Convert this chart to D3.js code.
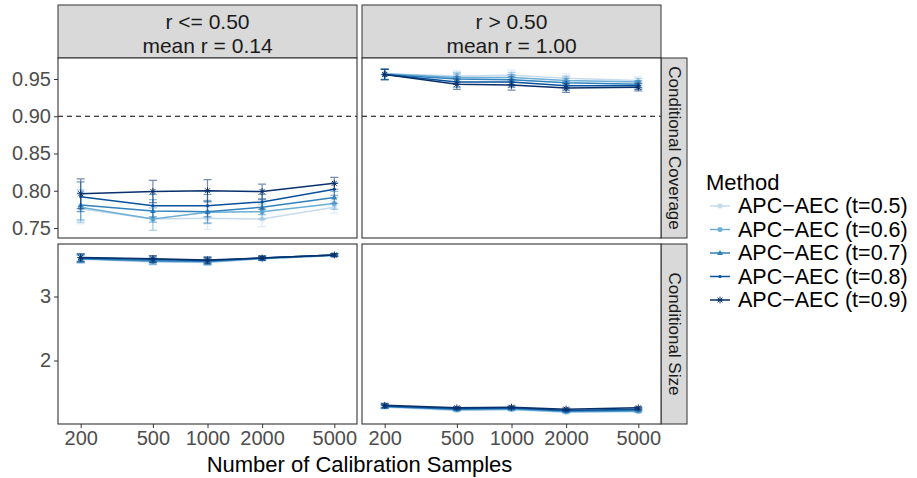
<!DOCTYPE html>
<html>
<head>
<meta charset="utf-8">
<script src="https://cdn.jsdelivr.net/npm/d3@7"></script>
<style>
  body { margin: 0; background: #fff; }
  svg { font-family: "Liberation Sans", Arial, sans-serif; }
</style>
</head>
<body>
<svg id="chart" width="917" height="478"></svg>
<script>
const sampleSizes = [200, 500, 1000, 2000, 5000];
const methods = ["APC\u2212AEC (t=0.5)", "APC\u2212AEC (t=0.6)", "APC\u2212AEC (t=0.7)", "APC\u2212AEC (t=0.8)", "APC\u2212AEC (t=0.9)"];
const methodColors = ["#c6dbef", "#6baed6", "#3182bd", "#08519c", "#08306b"];
const methodShapes = ["square", "circle", "triangle", "dot", "asterisk"];
const colLabels = [["r <= 0.50", "mean r = 0.14"], ["r > 0.50", "mean r = 1.00"]];
const rowLabels = ["Conditional Coverage", "Conditional Size"];

// conditional coverage, r <= 0.50 (one row per method)
const coverageLow = [
  [0.776, 0.762, 0.763, 0.762, 0.778],
  [0.778, 0.762, 0.771, 0.772, 0.783],
  [0.781, 0.773, 0.772, 0.778, 0.791],
  [0.792, 0.780, 0.780, 0.785, 0.802],
  [0.796, 0.799, 0.800, 0.799, 0.810]
];
const coverageLowErr = [0.02, 0.015, 0.015, 0.01, 0.008];

// conditional coverage, r > 0.50
const coverageHigh = [
  [0.957, 0.954, 0.955, 0.951, 0.948],
  [0.957, 0.952, 0.952, 0.948, 0.946],
  [0.956, 0.950, 0.949, 0.945, 0.943],
  [0.956, 0.946, 0.946, 0.941, 0.941],
  [0.956, 0.943, 0.942, 0.938, 0.939]
];
const coverageHighErr = [0.007, 0.007, 0.007, 0.006, 0.005];

// conditional size, r <= 0.50
const sizeLow = [
  [3.58, 3.54, 3.53, 3.59, 3.64],
  [3.59, 3.55, 3.54, 3.59, 3.64],
  [3.59, 3.56, 3.55, 3.60, 3.65],
  [3.60, 3.58, 3.56, 3.60, 3.65],
  [3.61, 3.59, 3.57, 3.60, 3.65]
];
const sizeLowErr = [0.06, 0.05, 0.05, 0.03, 0.02];

// conditional size, r > 0.50
const sizeHigh = [
  [1.27, 1.22, 1.23, 1.19, 1.20],
  [1.28, 1.23, 1.24, 1.20, 1.21],
  [1.28, 1.24, 1.25, 1.21, 1.22],
  [1.29, 1.25, 1.26, 1.22, 1.24],
  [1.30, 1.26, 1.27, 1.24, 1.26]
];
const sizeHighErr = [0.03, 0.02, 0.02, 0.02, 0.02];

const coverageTicks = [0.75, 0.80, 0.85, 0.90, 0.95];
const sizeTicks = [2, 3];
const targetCoverage = 0.9;

// layout
const panelX = [58, 362];
const panelY = [58, 244];
const panelW = 299;
const panelH = 180;
const stripTop = 5;
const stripRightW = 26;

const svg = d3.select("#chart");

const x = d3.scaleLog().domain([200, 5000]).range([22.7, 276.3]);
const yScales = [
  d3.scaleLinear().domain([0.7366, 0.9782]).range([panelH, 0]),
  d3.scaleLinear().domain([1.008, 3.82]).range([panelH, 0])
];
const yTicks = [coverageTicks, sizeTicks];
const yFormats = [d3.format(".2f"), d3.format("d")];

const panels = [
  { row: 0, col: 0, values: coverageLow, err: coverageLowErr, hline: true },
  { row: 0, col: 1, values: coverageHigh, err: coverageHighErr, hline: true },
  { row: 1, col: 0, values: sizeLow, err: sizeLowErr, hline: false },
  { row: 1, col: 1, values: sizeHigh, err: sizeHighErr, hline: false }
];

const drawSymbol = (g, shape, color, cx, cy, s) => {
  if (shape === "square") {
    g.append("rect").attr("x", cx - s).attr("y", cy - s).attr("width", 2 * s).attr("height", 2 * s).attr("fill", color);
  } else if (shape === "circle") {
    g.append("circle").attr("cx", cx).attr("cy", cy).attr("r", s * 1.1).attr("fill", color);
  } else if (shape === "triangle") {
    const h = s * 1.3;
    g.append("path")
      .attr("d", `M${cx},${cy - h}L${cx + h},${cy + h * 0.7}L${cx - h},${cy + h * 0.7}Z`)
      .attr("fill", color);
  } else if (shape === "dot") {
    g.append("circle").attr("cx", cx).attr("cy", cy).attr("r", s * 0.7).attr("fill", color);
  } else {
    const a = s * 1.5;
    const d = a * 0.72;
    g.append("path")
      .attr("d", `M${cx - a},${cy}H${cx + a}M${cx},${cy - a}V${cy + a}M${cx - d},${cy - d}L${cx + d},${cy + d}M${cx - d},${cy + d}L${cx + d},${cy - d}`)
      .attr("stroke", color)
      .attr("stroke-width", 1)
      .attr("fill", "none");
  }
};

// top strips
colLabels.forEach((lab, c) => {
  const g = svg.append("g").attr("transform", `translate(${panelX[c]},${stripTop})`);
  g.append("rect")
    .attr("width", panelW).attr("height", panelY[0] - stripTop)
    .attr("fill", "#d9d9d9").attr("stroke", "#333").attr("stroke-width", 1);
  lab.forEach((t, i) => {
    g.append("text")
      .attr("x", panelW / 2).attr("y", 16 + i * 24)
      .attr("text-anchor", "middle").attr("dominant-baseline", "central")
      .attr("font-size", 21).attr("fill", "#1a1a1a")
      .text(t);
  });
});

// right strips
rowLabels.forEach((lab, r) => {
  const g = svg.append("g").attr("transform", `translate(${panelX[1] + panelW},${panelY[r]})`);
  g.append("rect")
    .attr("width", stripRightW).attr("height", panelH)
    .attr("fill", "#d9d9d9").attr("stroke", "#333").attr("stroke-width", 1);
  g.append("text")
    .attr("transform", `translate(${stripRightW / 2},${panelH / 2}) rotate(90)`)
    .attr("text-anchor", "middle").attr("dominant-baseline", "central")
    .attr("font-size", 17).attr("fill", "#1a1a1a")
    .text(lab);
});

panels.forEach(p => {
  const y = yScales[p.row];
  const g = svg.append("g").attr("transform", `translate(${panelX[p.col]},${panelY[p.row]})`);

  g.append("rect")
    .attr("width", panelW).attr("height", panelH)
    .attr("fill", "#fff");

  if (p.hline) {
    g.append("line")
      .attr("x1", 0).attr("x2", panelW)
      .attr("y1", y(targetCoverage)).attr("y2", y(targetCoverage))
      .attr("stroke", "#000").attr("stroke-width", 1.1)
      .attr("stroke-dasharray", "5,4");
  }

  const line = d3.line().x((d, i) => x(sampleSizes[i])).y(d => y(d));

  p.values.forEach((series, m) => {
    const color = methodColors[m];
    const eg = g.append("g").attr("opacity", 0.55);
    series.forEach((v, i) => {
      const cx = x(sampleSizes[i]);
      const lo = y(v - p.err[i]);
      const hi = y(v + p.err[i]);
      eg.append("path")
        .attr("d", `M${cx - 4},${hi}H${cx + 4}M${cx},${hi}V${lo}M${cx - 4},${lo}H${cx + 4}`)
        .attr("stroke", color).attr("stroke-width", 1.2).attr("fill", "none");
    });
    g.append("path")
      .datum(series)
      .attr("d", line)
      .attr("fill", "none")
      .attr("stroke", color)
      .attr("stroke-width", 1.5);
    series.forEach((v, i) => {
      drawSymbol(g, methodShapes[m], color, x(sampleSizes[i]), y(v), 2.3);
    });
  });

  g.append("rect")
    .attr("width", panelW).attr("height", panelH)
    .attr("fill", "none").attr("stroke", "#333").attr("stroke-width", 1.1);

  if (p.col === 0) {
    const ax = g.append("g")
      .call(d3.axisLeft(y).tickValues(yTicks[p.row]).tickFormat(yFormats[p.row]).tickSize(4).tickPadding(3));
    ax.select(".domain").remove();
    ax.selectAll("line").attr("stroke", "#333");
    ax.selectAll("text").attr("font-size", 20).attr("fill", "#4d4d4d").attr("font-family", null);
  }
  if (p.row === 1) {
    const ax = g.append("g").attr("transform", `translate(0,${panelH})`)
      .call(d3.axisBottom(x).tickValues(sampleSizes).tickFormat(d3.format("d")).tickSize(4).tickPadding(3));
    ax.select(".domain").remove();
    ax.selectAll("line").attr("stroke", "#333");
    ax.selectAll("text").attr("font-size", 20).attr("fill", "#4d4d4d").attr("font-family", null);
  }
});

// axis title
svg.append("text")
  .attr("x", (panelX[0] + panelX[1] + panelW) / 2).attr("y", 464)
  .attr("text-anchor", "middle").attr("dominant-baseline", "central")
  .attr("font-size", 22).attr("fill", "#000")
  .text("Number of Calibration Samples");

// legend
const legend = svg.append("g").attr("transform", "translate(706,182)");
legend.append("text")
  .attr("x", 0).attr("y", 0)
  .attr("dominant-baseline", "central")
  .attr("font-size", 22).attr("fill", "#000")
  .text("Method");
methods.forEach((name, m) => {
  const ly = 24 + m * 23.5;
  legend.append("line")
    .attr("x1", 4).attr("x2", 24).attr("y1", ly).attr("y2", ly)
    .attr("stroke", methodColors[m]).attr("stroke-width", 1.5);
  drawSymbol(legend, methodShapes[m], methodColors[m], 14, ly, 2.3);
  legend.append("text")
    .attr("x", 32).attr("y", ly)
    .attr("dominant-baseline", "central")
    .attr("font-size", 21.5).attr("fill", "#000")
    .text(name);
});
</script>
</body>
</html>
